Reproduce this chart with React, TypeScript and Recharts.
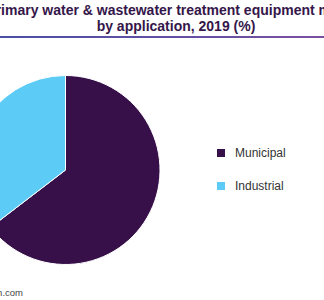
import React from 'react';
import { PieChart, Pie, Cell, Legend } from 'recharts';

const categories = ['Municipal', 'Industrial'];
const shares = [64.6, 35.4];
const colors = ['#37104a', '#5ccbf5'];

const titleLines = [
  'Primary water & wastewater treatment equipment market share',
  'by application, 2019 (%)',
];
const titleCenters = [196, 176];

const data = categories.map((name, i) => ({ name, value: shares[i] }));

const LegendContent = () => (
  <div>
    {categories.map((name, i) => (
      <div key={name} style={{ display: 'flex', alignItems: 'center', height: 16, marginBottom: i === 0 ? 17 : 0 }}>
        <span style={{ width: 8, height: 8, background: colors[i], display: 'inline-block', marginRight: 10 }} />
        <span style={{ fontSize: 12, color: '#333', fontFamily: 'Liberation Sans, Arial, sans-serif' }}>{name}</span>
      </div>
    ))}
  </div>
);

export default function App() {
  return (
    <div style={{ position: 'absolute', left: 0, top: 0, width: 324, height: 300, overflow: 'hidden', background: '#fff' }}>
      {/* title */}
      {titleLines.map((line, i) => (
        <div
          key={i}
          style={{
            position: 'absolute',
            left: titleCenters[i] - 300,
            width: 600,
            top: i === 0 ? 2 : 18,
            textAlign: 'center',
            whiteSpace: 'nowrap',
            fontFamily: 'Liberation Sans, Arial, sans-serif',
            fontWeight: 'bold',
            fontSize: 14,
            lineHeight: '16px',
            color: '#35164a',
          }}
        >
          {line}
        </div>
      ))}
      <div style={{ position: 'absolute', left: 0, top: 36, width: 324, height: 2, background: 'linear-gradient(to right, #4a4fa6, #7a4fa0)' }} />

      <div style={{ position: 'absolute', left: 0, top: 0 }}>
        <PieChart width={324} height={300} margin={{ top: 0, right: 0, bottom: 0, left: 0 }}>
          <Pie
            data={data}
            dataKey="value"
            nameKey="name"
            cx={65.5}
            cy={170}
            outerRadius={94.5}
            startAngle={90}
            endAngle={-270}
            stroke="#fff"
            strokeWidth={1}
            isAnimationActive={false}
          >
            {data.map((d, i) => (
              <Cell key={d.name} fill={colors[i]} />
            ))}
          </Pie>
          <Legend content={<LegendContent />} wrapperStyle={{ left: 217, top: 145, width: 100 }} />
        </PieChart>
      </div>

      {/* source */}
      <div style={{ position: 'absolute', right: 324 - 23, top: 287, whiteSpace: 'nowrap', fontFamily: 'Liberation Sans, Arial, sans-serif', fontSize: 9.5, color: '#444' }}>
        Source: www.grandviewresearch.com
      </div>
    </div>
  );
}
